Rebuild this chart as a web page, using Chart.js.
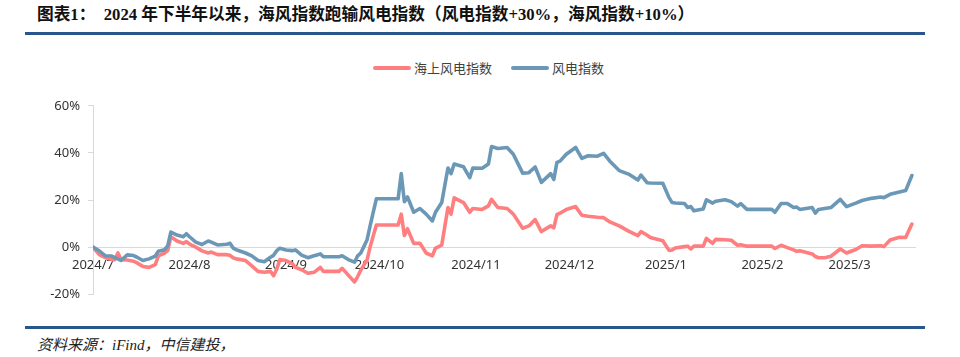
<!DOCTYPE html>
<html>
<head>
<meta charset="utf-8">
<script src="https://cdn.jsdelivr.net/npm/chart.js@4/dist/chart.umd.min.js"></script>
<style>
  html, body { margin: 0; padding: 0; background: #fff; }
  body { width: 960px; height: 357px; position: relative; overflow: hidden; }
  #title { position: absolute; left: 37px; top: 5px; line-height: 20px; font-size: 16.7px; font-weight: bold;
           font-family: "Liberation Serif", "Noto Sans CJK SC", serif; color: #111; white-space: pre; }
  .rule { position: absolute; left: 25px; width: 900px; height: 3px; background: #27578A; }
  #legend { position: absolute; top: 59px; left: 0; width: 960px; height: 18px; font-family: "Noto Sans CJK SC", sans-serif;
            font-size: 13px; color: #404040; }
  .item { position: absolute; top: 0; line-height: 18px; white-space: nowrap; }
  .swatch { display: inline-block; width: 38px; height: 4px; border-radius: 2px; vertical-align: middle; margin-right: 3px; position: relative; top: -1px; }
  #chartbox { position: absolute; left: 0; top: 90px; width: 960px; height: 220px; }
  #source { position: absolute; left: 37px; top: 336px; line-height: 18px; font-size: 15px; font-style: italic;
            font-family: "Liberation Serif", "Noto Sans CJK SC", serif; color: #222; white-space: pre; }
</style>
</head>
<body>
<div id="title">图表1：  2024 年下半年以来，海风指数跑输风电指数（风电指数+30%，海风指数+10%）</div>
<div class="rule" style="top:32px"></div>
<div id="legend">
  <div class="item" style="left:373px"><span class="swatch" style="background:#FF7F80"></span>海上风电指数</div>
  <div class="item" style="left:511px"><span class="swatch" style="background:#6B98B6"></span>风电指数</div>
</div>
<div id="chartbox"><canvas id="c" width="960" height="220"></canvas></div>
<div class="rule" style="top:326px"></div>
<div id="source">资料来源：iFind，中信建投，</div>
<script>
// ---- data (percent change since 2024-07-01) ----
const dates = [
  '2024-07-01','2024-07-03','2024-07-05','2024-07-07','2024-07-08','2024-07-09','2024-07-10','2024-07-12','2024-07-14','2024-07-15',
  '2024-07-17','2024-07-19','2024-07-21','2024-07-22','2024-07-24','2024-07-25','2024-07-26','2024-07-28','2024-07-30','2024-07-31',
  '2024-08-01','2024-08-03','2024-08-05','2024-08-07','2024-08-08','2024-08-10','2024-08-13','2024-08-14','2024-08-15','2024-08-16',
  '2024-08-19','2024-08-21','2024-08-23','2024-08-25','2024-08-27','2024-08-28','2024-08-29','2024-08-30',
  '2024-09-01','2024-09-03','2024-09-04','2024-09-06','2024-09-08','2024-09-10','2024-09-12','2024-09-13','2024-09-18','2024-09-19',
  '2024-09-21','2024-09-23','2024-09-24','2024-09-25','2024-09-27','2024-09-28','2024-09-30',
  '2024-10-07','2024-10-08','2024-10-09','2024-10-10','2024-10-12','2024-10-14','2024-10-16','2024-10-18','2024-10-19','2024-10-21',
  '2024-10-23','2024-10-24','2024-10-25','2024-10-28','2024-10-30','2024-10-31',
  '2024-11-03','2024-11-05','2024-11-06','2024-11-08','2024-11-11','2024-11-13','2024-11-16','2024-11-18','2024-11-20','2024-11-22',
  '2024-11-25','2024-11-26','2024-11-27','2024-11-28','2024-11-30',
  '2024-12-03','2024-12-05','2024-12-07','2024-12-10','2024-12-12','2024-12-14','2024-12-17','2024-12-20','2024-12-23','2024-12-24',
  '2024-12-26','2024-12-27','2024-12-31',
  '2025-01-02','2025-01-03','2025-01-04','2025-01-07','2025-01-08','2025-01-09','2025-01-10','2025-01-13','2025-01-14','2025-01-16',
  '2025-01-17','2025-01-20','2025-01-22','2025-01-24','2025-01-25','2025-01-27',
  '2025-02-04','2025-02-05','2025-02-07','2025-02-09','2025-02-11','2025-02-12','2025-02-13','2025-02-17','2025-02-18','2025-02-19',
  '2025-02-21','2025-02-23','2025-02-26','2025-02-28',
  '2025-03-03','2025-03-05','2025-03-08','2025-03-11','2025-03-12','2025-03-14','2025-03-17','2025-03-19','2025-03-21'
];
const offshoreIndex = [ // 海上风电指数
  0,-3.2,-4.5,-5.3,-5.3,-2.5,-5.3,-5.5,-6.0,-6.6,
  -8.2,-8.6,-7.4,-3.7,-2.5,-1.5,4.4,2.6,1.6,2.3,
  1.3,0.0,-1.6,-2.5,-2.1,-3.2,-3.2,-3.5,-4.5,-5.0,
  -5.7,-8.0,-10.3,-10.7,-10.3,-12.2,-9.4,-5.3,
  -5.7,-7.0,-8.6,-9.6,-11.1,-10.7,-8.6,-10.3,-10.3,-9.0,
  -11.9,-14.8,-12.5,-9.8,-5.5,0.0,9.4,
  9.4,14.0,4.9,7.8,1.6,1.6,-2.5,-3.7,-0.4,0.8,
  16.8,14.0,20.9,18.9,14.8,16.4,
  16.0,17.5,20.3,16.8,16.4,14.0,8.0,9.0,11.7,6.6,
  9.0,8.2,13.8,14.4,16.0,
  17.2,13.5,13.1,12.7,12.5,10.7,9.0,6.8,4.9,6.6,
  5.0,4.1,2.7,
  -1.4,-1.2,-0.4,0.2,0.4,-0.8,0.4,0.4,3.7,1.6,
  3.3,3.1,2.9,0.8,1.0,0.4,
  0.4,-0.6,0.8,-0.2,-1.2,-1.8,-1.6,-2.9,-4.0,-4.5,
  -4.5,-3.9,-0.8,-2.5,
  -1.0,0.6,0.4,0.6,0.2,3.0,4.2,4.1,9.8
];
const windIndex = [ // 风电指数
  0,-1.6,-3.7,-3.8,-4.5,-5.0,-5.7,-3.3,-3.6,-4.2,
  -5.7,-5.0,-3.8,-1.8,-1.1,0.5,6.4,5.1,4.4,5.7,
  4.4,2.1,1.1,2.6,2.1,0.9,1.2,1.6,-0.4,-1.1,
  -2.5,-3.7,-5.7,-6.2,-4.3,-3.5,-1.5,-0.5,
  -1.2,-1.5,-1.2,-3.4,-4.5,-3.7,-2.9,-4.1,-4.1,-3.7,
  -5.3,-6.4,-3.7,-2.5,3.0,9.0,20.5,
  20.5,31.2,19.3,21.3,14.8,16.4,14.0,11.1,14.8,18.9,
  33.6,31.2,35.3,34.1,29.5,33.6,
  33.5,35.3,42.7,41.9,42.3,39.4,31.4,31.6,34.0,27.5,
  31.2,28.7,36.0,36.5,39.4,
  42.3,37.7,38.8,38.6,39.8,36.5,32.5,31.0,28.5,30.6,
  27.3,27.2,27.1,
  21.0,18.9,18.7,18.5,16.8,17.2,15.4,16.2,20.1,18.7,
  19.5,20.1,19.3,17.4,18.5,16.0,
  16.0,14.8,18.5,18.5,16.8,17.0,16.0,16.8,14.4,16.0,
  16.4,16.8,20.3,17.2,
  18.7,19.8,20.7,21.3,21.0,22.4,23.4,24.0,30.4
];
const monthTicks = ['2024-07-01','2024-08-01','2024-09-01','2024-10-01','2024-11-01','2024-12-01','2025-01-01','2025-02-01','2025-03-01'];
const monthLabels = ['2024/7','2024/8','2024/9','2024/10','2024/11','2024/12','2025/1','2025/2','2025/3'];
const yMin = -20, yMax = 60, yStep = 20;

const base = Date.parse('2024-07-01');
const dayOf = s => (Date.parse(s) - base) / 86400000;
const toPts = vals => dates.map((d, i) => ({ x: dayOf(d), y: vals[i] }));
const lastDay = dayOf('2025-03-22');

const tickFont = { family: '"Noto Sans", "Noto Sans CJK SC", sans-serif', size: 13 };
const axisGray = '#D9D9D9';

new Chart(document.getElementById('c'), {
  type: 'line',
  data: {
    datasets: [
      { label: '风电指数', data: toPts(windIndex), borderColor: '#6B98B6', borderWidth: 3.6,
        pointRadius: 0, tension: 0, borderJoinStyle: 'round', borderCapStyle: 'round', fill: false },
      { label: '海上风电指数', data: toPts(offshoreIndex), borderColor: '#FF7F80', borderWidth: 3.6,
        pointRadius: 0, tension: 0, borderJoinStyle: 'round', borderCapStyle: 'round', fill: false }
    ]
  },
  options: {
    responsive: false,
    animation: false,
    devicePixelRatio: 1,
    layout: { padding: { left: 0, right: 45, top: 13, bottom: 10 } },
    plugins: { legend: { display: false }, tooltip: { enabled: false } },
    scales: {
      x: {
        type: 'linear',
        min: 0,
        max: lastDay,
        position: { y: 0 },
        grid: { display: true, drawOnChartArea: false, drawTicks: false, color: axisGray },
        border: { display: true, color: axisGray, width: 1 },
        afterBuildTicks: s => { s.ticks = monthTicks.map(d => ({ value: dayOf(d) })); },
        ticks: {
          autoSkip: false, maxRotation: 0, padding: 10, color: '#333', font: tickFont,
          callback: (v, i) => monthLabels[i]
        }
      },
      y: {
        min: yMin, max: yMax,
        afterFit: s => { s.width = 93; },
        grid: { drawOnChartArea: false, drawTicks: true, tickLength: 5, color: axisGray },
        border: { display: true, color: axisGray, width: 1 },
        ticks: { stepSize: yStep, padding: 8, color: '#333', font: tickFont, callback: v => v + '%' }
      }
    }
  }
});
</script>
</body>
</html>
